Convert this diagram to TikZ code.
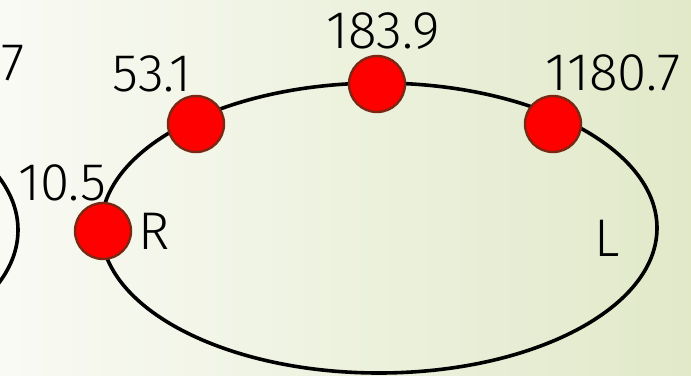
\documentclass[tikz,border=0pt]{standalone}
\usepackage{fontspec}
\setmainfont{Fira Sans}[UprightFont=* Light]
\usetikzlibrary{
    positioning,
    calc
}
\definecolor{bgLeft}{HTML}{F9FAF4}
\definecolor{bgRight}{HTML}{E1E9C9}
\definecolor{siteRim}{HTML}{7A2814}
\tikzset{
    % --- Red site on the orbit ---
    site/.style = {
        circle, draw=siteRim, line width=1.2pt, fill=red,
        minimum size=28pt, inner sep=0pt
    },
    % --- Value label next to a site ---
    val/.style = {
        inner sep=0pt,
        font=\fontsize{26.5}{30}\selectfont
    },
    % --- Orbit outline ---
    orbit/.style = {
        draw=black, line width=1.8pt
    }
}
\begin{document}
\begin{tikzpicture}[x=0.5pt, y=-0.5pt]

% ---------------------------------------------------------
% Background
% ---------------------------------------------------------
\shade[left color=bgLeft, right color=bgRight]
    (0,0) rectangle (691,375);
\useasboundingbox (0,0) rectangle (691,375);
\clip (0,0) rectangle (691,375);

% ---------------------------------------------------------
% Orbits
% ---------------------------------------------------------
\coordinate (OrbitPrev) at (-260,230);
\coordinate (OrbitMain) at (379,228);
\draw[orbit] (OrbitPrev) ellipse [x radius=278, y radius=145];
\draw[orbit] (OrbitMain) ellipse [x radius=278, y radius=145];

% ---------------------------------------------------------
% Sites
% ---------------------------------------------------------
\node[site] (SiteR)  at (103,231) {};
\node[site] (SiteA)  at (196,124) {};
\node[site] (SiteB)  at (377,84)  {};
\node[site] (SiteC)  at (553,124) {};

% ---------------------------------------------------------
% Labels
% ---------------------------------------------------------
\node[val, anchor=east] (ValPrev) at (25,63) {7};
\node[val] (ValR) at (62,183)  {10.5};
\node[val] (ValA) at (152,74)  {53.1};
\node[val] (ValB) at (383,31)  {183.9};
\node[val] (ValC) at (613,73)  {1180.7};

\node[val, right=3pt of SiteR] (TagR) {R};
\node[val] (TagL) at (607,238) {L};

\end{tikzpicture}
\end{document}
